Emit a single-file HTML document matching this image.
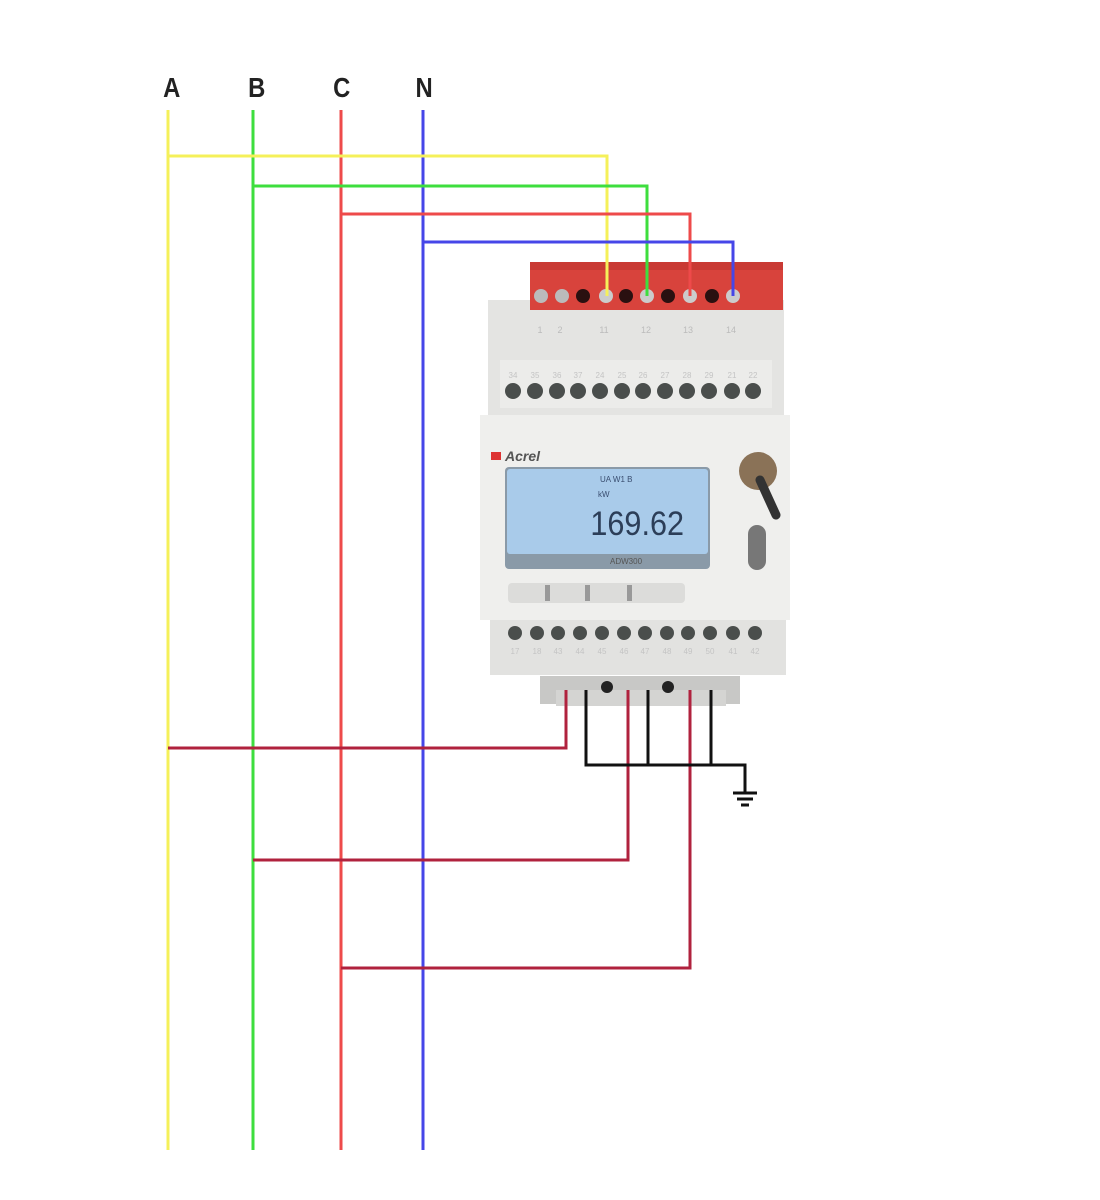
<!DOCTYPE html>
<html><head><style>html,body{margin:0;padding:0;background:#fff;}svg{display:block}</style></head>
<body>
<svg width="1100" height="1200" viewBox="0 0 1100 1200" xmlns="http://www.w3.org/2000/svg" font-family="Liberation Sans, sans-serif">
<rect width="1100" height="1200" fill="#fff"/>
<g font-size="28" font-weight="bold" fill="#222" text-anchor="middle" transform="scale(0.85,1)">
<text x="202" y="97">A</text><text x="302" y="97">B</text><text x="402" y="97">C</text><text x="499" y="97">N</text>
</g>
<rect x="488" y="300" width="296" height="115" fill="#e4e4e2"/>
<rect x="500" y="360" width="272" height="48" fill="#ececea"/>
<g font-size="9" fill="#bbb" text-anchor="middle">
<text x="540" y="333">1</text><text x="560" y="333">2</text><text x="604" y="333">11</text><text x="646" y="333">12</text><text x="688" y="333">13</text><text x="731" y="333">14</text>
</g>
<g font-size="8" fill="#c4c4c4" text-anchor="middle">
<text x="513" y="378">34</text><text x="535" y="378">35</text><text x="557" y="378">36</text><text x="578" y="378">37</text><text x="600" y="378">24</text><text x="622" y="378">25</text><text x="643" y="378">26</text><text x="665" y="378">27</text><text x="687" y="378">28</text><text x="709" y="378">29</text><text x="732" y="378">21</text><text x="753" y="378">22</text>
</g>
<g fill="#4a4e4c">
<circle cx="513" cy="391" r="8"/><circle cx="535" cy="391" r="8"/><circle cx="557" cy="391" r="8"/><circle cx="578" cy="391" r="8"/><circle cx="600" cy="391" r="8"/><circle cx="622" cy="391" r="8"/><circle cx="643" cy="391" r="8"/><circle cx="665" cy="391" r="8"/><circle cx="687" cy="391" r="8"/><circle cx="709" cy="391" r="8"/><circle cx="732" cy="391" r="8"/><circle cx="753" cy="391" r="8"/>
</g>
<rect x="480" y="415" width="310" height="205" fill="#efefed"/>
<text x="505" y="461" font-size="14" font-weight="bold" font-style="italic" fill="#555">Acrel</text>
<rect x="491" y="452" width="10" height="8" fill="#d33"/>
<rect x="505" y="467" width="205" height="102" rx="4" fill="#8a9aa8"/>
<rect x="507" y="469" width="201" height="85" rx="3" fill="#a9cbea"/>
<text x="600" y="482" font-size="8" fill="#3a4e70">UA  W1    B</text>
<text x="598" y="497" font-size="8" fill="#3a4e70">kW</text>
<text x="708" y="535" font-size="34" fill="#2c3e58" text-anchor="middle" transform="scale(0.9,1)">169.62</text>
<text x="610" y="564" font-size="8" fill="#555">ADW300</text>
<rect x="508" y="583" width="177" height="20" rx="4" fill="#dcdcda"/>
<rect x="545" y="585" width="5" height="16" fill="#999"/><rect x="585" y="585" width="5" height="16" fill="#999"/><rect x="627" y="585" width="5" height="16" fill="#999"/>
<rect x="739" y="452" width="38" height="38" rx="19" fill="#8a7257"/>
<line x1="760" y1="480" x2="776" y2="515" stroke="#333" stroke-width="9" stroke-linecap="round"/>
<rect x="748" y="525" width="18" height="45" rx="9" fill="#777"/>
<rect x="490" y="620" width="296" height="55" fill="#e2e2e0"/>
<g fill="#4a4e4c">
<circle cx="515" cy="633" r="7"/><circle cx="537" cy="633" r="7"/><circle cx="558" cy="633" r="7"/><circle cx="580" cy="633" r="7"/><circle cx="602" cy="633" r="7"/><circle cx="624" cy="633" r="7"/><circle cx="645" cy="633" r="7"/><circle cx="667" cy="633" r="7"/><circle cx="688" cy="633" r="7"/><circle cx="710" cy="633" r="7"/><circle cx="733" cy="633" r="7"/><circle cx="755" cy="633" r="7"/>
</g>
<g font-size="8" fill="#c4c4c4" text-anchor="middle">
<text x="515" y="654">17</text><text x="537" y="654">18</text><text x="558" y="654">43</text><text x="580" y="654">44</text><text x="602" y="654">45</text><text x="624" y="654">46</text><text x="645" y="654">47</text><text x="667" y="654">48</text><text x="688" y="654">49</text><text x="710" y="654">50</text><text x="733" y="654">41</text><text x="755" y="654">42</text>
</g>
<rect x="540" y="676" width="200" height="28" fill="#c8c8c6"/>
<rect x="556" y="690" width="170" height="16" fill="#d4d4d2"/>
<circle cx="607" cy="687" r="6" fill="#222"/><circle cx="668" cy="687" r="6" fill="#222"/>
<rect x="530" y="262" width="253" height="48" fill="#d8433c"/>
<rect x="530" y="262" width="253" height="8" fill="#c93a34"/>
<g>
<circle cx="541" cy="296" r="7" fill="#bbb"/><circle cx="562" cy="296" r="7" fill="#bbb"/><circle cx="583" cy="296" r="7" fill="#2a1010"/><circle cx="606" cy="296" r="7" fill="#ccc"/><circle cx="626" cy="296" r="7" fill="#2a1010"/><circle cx="647" cy="296" r="7" fill="#ccc"/><circle cx="668" cy="296" r="7" fill="#2a1010"/><circle cx="690" cy="296" r="7" fill="#ccc"/><circle cx="712" cy="296" r="7" fill="#2a1010"/><circle cx="733" cy="296" r="7" fill="#ccc"/>
</g>
<g fill="none" stroke-width="3">
<path d="M168 110V1150" stroke="#f5f05a"/>
<path d="M253 110V1150" stroke="#3ede3e"/>
<path d="M341 110V1150" stroke="#ee4a4a"/>
<path d="M423 110V1150" stroke="#4646e8"/>
<path d="M168 156H607V296" stroke="#f5f05a"/>
<path d="M253 186H647V296" stroke="#3ede3e"/>
<path d="M341 214H690V296" stroke="#ee4a4a"/>
<path d="M423 242H733V296" stroke="#4646e8"/>
<path d="M168 748H566V690" stroke="#b0223e"/>
<path d="M253 860H628V690" stroke="#b0223e"/>
<path d="M341 968H690V690" stroke="#b0223e"/>
<path d="M586 690V765H745V792 M648 690V765 M711 690V765" stroke="#111"/>
<path d="M733 793H757 M737 799H753 M741 805H749" stroke="#111"/>
</g>
</svg>
</body></html>
